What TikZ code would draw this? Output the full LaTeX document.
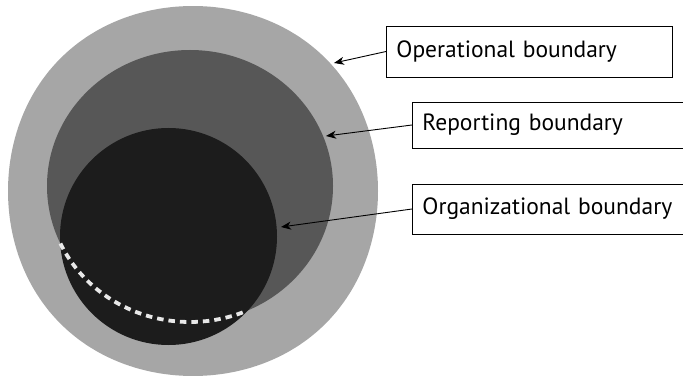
\documentclass[tikz,border=0pt]{standalone}
\usepackage{fontspec}
\setmainfont{PT Sans}
\usetikzlibrary{arrows.meta}
\definecolor{opgray}{HTML}{A6A6A6}
\definecolor{repgray}{HTML}{575757}
\definecolor{orgblack}{HTML}{1C1C1C}
\definecolor{dashwhite}{HTML}{E8E8E8}
\tikzset{
  labelbox/.style={draw=black, line width=0.9pt, anchor=west, inner xsep=10pt,
    align=left, font=\fontsize{23.5}{27}\selectfont},
  pointer/.style={-{Stealth[length=10pt,width=8pt,inset=3pt]}, line width=0.9pt, black}
}
\begin{document}
\begin{tikzpicture}[x=1pt,y=-1pt]
  \clip (0,0) rectangle (683,377);
  \fill[white] (0,0) rectangle (683,377);

  % operational boundary: outer light disc, a touch fuller on the diagonals
  \fill[opgray] plot[smooth cycle, domain=0:356, samples=90]
    ({193+(185+2.5*pow(sin(2*\x),2))*cos(\x)}, {191+(185+2.5*pow(sin(2*\x),2))*sin(\x)});

  % reporting boundary: middle ellipse
  \fill[repgray] (190,186) ellipse [x radius=143pt, y radius=136pt];

  % organizational boundary: inner disc
  \fill[orgblack] (168.5,236.5) circle [radius=108.5pt];

  % hidden part of the reporting boundary
  \draw[dashwhite, line width=3.8pt, dash pattern=on 6.5pt off 5pt]
    plot[domain=155:67, samples=60] ({190+143*cos(\x)}, {186+136*sin(\x)});

  % labels
  \node[labelbox, minimum height=51pt, text width=266pt] (op) at (386,51.5) {Operational boundary};
  \node[labelbox, minimum height=46pt, text width=280pt] (rep) at (412,125) {Reporting boundary};
  \node[labelbox, minimum height=50pt, text width=280pt] (org) at (412,209) {Organizational boundary};

  % arrow targets on the boundaries
  \coordinate (opT) at (334,63);
  \coordinate (repT) at (326,136);
  \coordinate (orgT) at (281,227);

  \draw[pointer] (op.west) -- (opT);
  \draw[pointer] (rep.west) -- (repT);
  \draw[pointer] (org.west) -- (orgT);
\end{tikzpicture}
\end{document}
